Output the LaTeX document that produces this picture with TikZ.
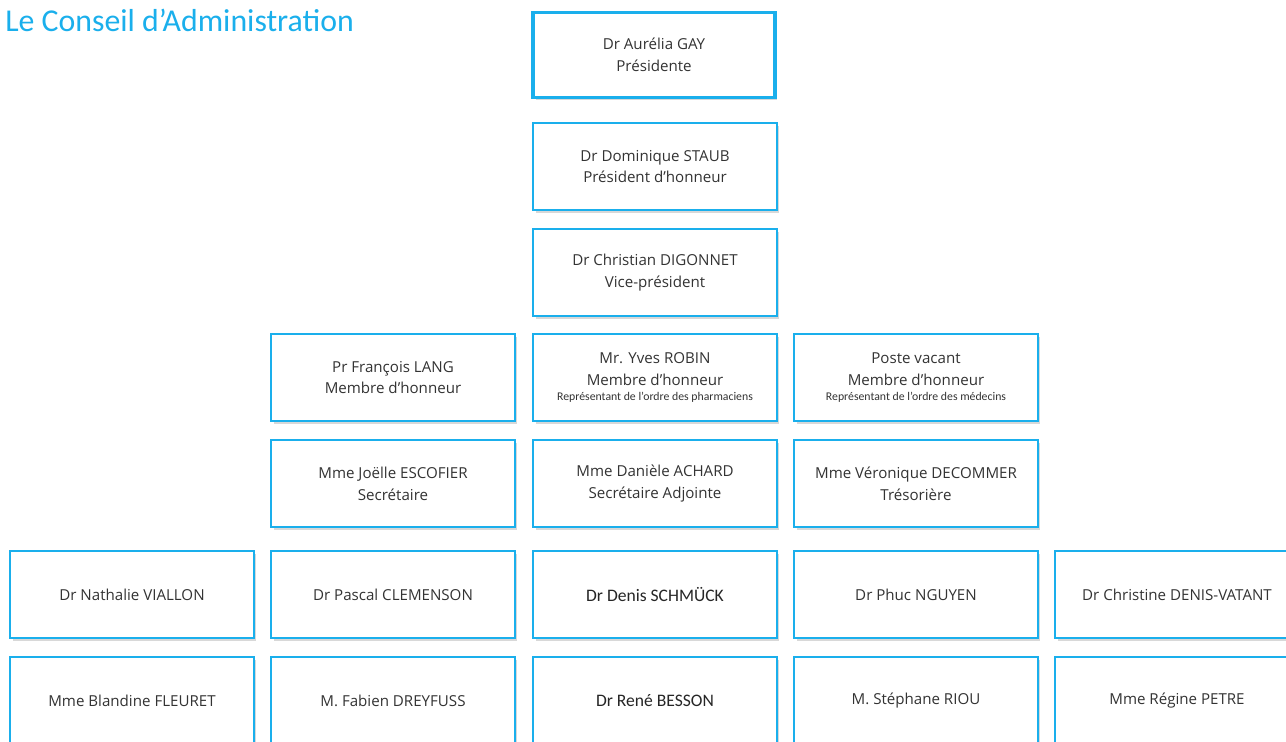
\documentclass[tikz,border=0pt]{standalone}
\usepackage{fontspec}
\setmainfont{Open Sans}
\newfontfamily\calib{Carlito}
\usetikzlibrary{shadows}
\definecolor{ciel}{HTML}{1AAFEC}
\definecolor{encre}{HTML}{333333}
\newcommand\petitrep{\calib\fontsize{6.7}{8}\selectfont}
\tikzset{>=stealth}
\tikzset{
  membre/.style={draw=ciel, line width=0.75pt, fill=white, rectangle, align=center,
    minimum width=4.88cm, minimum height=1.74cm, inner sep=0pt, text=encre,
    font=\fontsize{8.6}{12.4}\selectfont,
    drop shadow={shadow xshift=0.05cm, shadow yshift=-0.06cm, opacity=0.25, fill=black!60}},
  chef/.style={membre, line width=2pt, minimum width=4.84cm, minimum height=1.7cm},
  calibre/.style={font=\calib\fontsize{10}{12}\selectfont, text=black!85},
}

\begin{document}
\begin{tikzpicture}[x=0.02cm, y=-0.02cm]
\useasboundingbox [fill=white] (0,0) rectangle (1286,742);

\node [anchor=base west, inner sep=0pt, text=ciel, font=\calib\fontsize{18.1}{20}\selectfont] (titre) at (5,32) {Le Conseil d’Administration};

\node [chef] (gay) at (654,55) {Dr Aurélia GAY\\Présidente};
\node [membre] (staub) at (655,166.5) {Dr Dominique STAUB\\Président d’honneur};
\node [membre] (digonnet) at (655,272.5) {Dr Christian DIGONNET\\Vice-président};

\node [membre] (lang) at (393,377.5) {Pr François LANG\\Membre d’honneur};
\node [membre] (robin) at (655,377.5) {Mr. Yves ROBIN\\Membre d’honneur\\[-3.5pt]{\petitrep Représentant de l’ordre des pharmaciens}};
\node [membre] (vacant) at (916,377.5) {Poste vacant\\Membre d’honneur\\[-3.5pt]{\petitrep Représentant de l’ordre des médecins}};

\node [membre] (escofier) at (393,483.5) {Mme Joëlle ESCOFIER\\Secrétaire};
\node [membre] (achard) at (655,483.5) {Mme Danièle ACHARD\\Secrétaire Adjointe};
\node [membre] (decommer) at (916,483.5) {Mme Véronique DECOMMER\\Trésorière};

\node [membre] (viallon) at (132,594.5) {Dr Nathalie VIALLON};
\node [membre] (clemenson) at (393,594.5) {Dr Pascal CLEMENSON};
\node [membre, calibre] (schmuck) at (655,594.5) {Dr Denis SCHMÜCK};
\node [membre] (nguyen) at (916,594.5) {Dr Phuc NGUYEN};
\node [membre] (denisvatant) at (1177,594.5) {Dr Christine DENIS-VATANT};

\node [membre] (fleuret) at (132,700.5) {Mme Blandine FLEURET};
\node [membre] (dreyfuss) at (393,700.5) {M. Fabien DREYFUSS};
\node [membre, calibre] (besson) at (655,700.5) {Dr René BESSON};
\node [membre] (riou) at (916,700.5) {M. Stéphane RIOU};
\node [membre] (petre) at (1177,700.5) {Mme Régine PETRE};

\end{tikzpicture}
\end{document}
